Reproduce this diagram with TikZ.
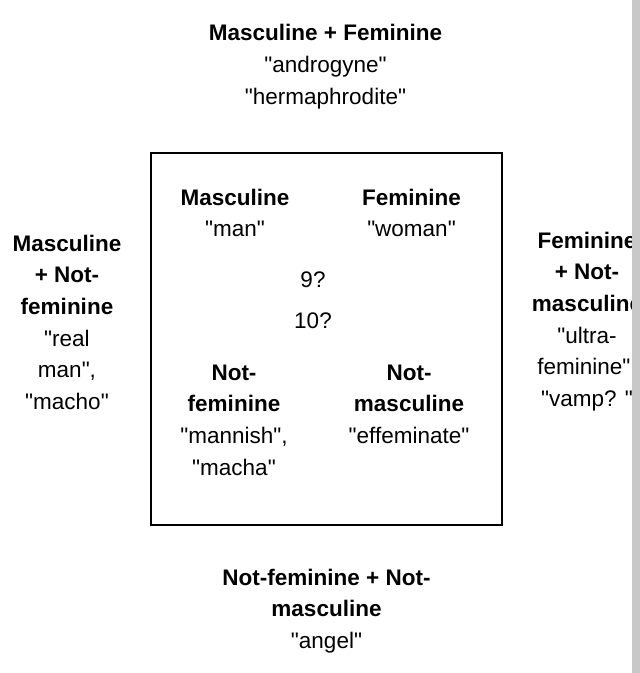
\documentclass[tikz,border=0pt]{standalone}
\usepackage{fontspec}
\setmainfont{Liberation Sans}[Ligatures=TeXOff]
\definecolor{barcol}{RGB}{200,200,200}
\newcommand\stk[1]{\begin{tabular}[t]{@{}c@{}}#1\end{tabular}}
\begin{document}
\begin{tikzpicture}[x=1bp,y=-1bp,
  txt/.style={anchor=base, inner sep=0pt, font=\fontsize{22.5bp}{31.7bp}\selectfont},
  frame/.style={draw, line width=2bp, inner sep=0pt}]
\useasboundingbox (0,0) rectangle (640,673);
\node[frame, minimum width=351bp, minimum height=372bp] (box) at (326.5,339) {};
\node[txt] (top) at (325.5,41) {\stk{\textbf{Masculine + Feminine}\\"androgyne"\\"hermaphrodite"}};
\node[txt] (mas) at (235,205) {\stk{\textbf{Masculine}\\"man"}};
\node[txt] (fem) at (411.5,205) {\stk{\textbf{Feminine}\\"woman"}};
\node[txt] (nine) at (313,287) {9?};
\node[txt] (ten) at (313,328) {10?};
\node[txt] (nf) at (234,380) {\stk{\textbf{Not-}\\\textbf{feminine}\\"mannish",\\"macha"}};
\node[txt] (nm) at (409,380) {\stk{\textbf{Not-}\\\textbf{masculine}\\"effeminate"}};
\node[txt] (left) at (67,251) {\stk{\textbf{Masculine}\\\textbf{+ Not-}\\\textbf{feminine}\\"real\\man",\\"macho"}};
\node[txt] (right) at (587,248) {\stk{\textbf{Feminine}\\\textbf{+ Not-}\\\textbf{masculine}\\"ultra-\\feminine",\\"vamp? "}};
\node[txt] (bottom) at (326.5,585) {\stk{\textbf{Not-feminine + Not-}\\\textbf{masculine}\\"angel"}};
\fill[barcol] (632,0) rectangle (640,673);
\end{tikzpicture}
\end{document}
